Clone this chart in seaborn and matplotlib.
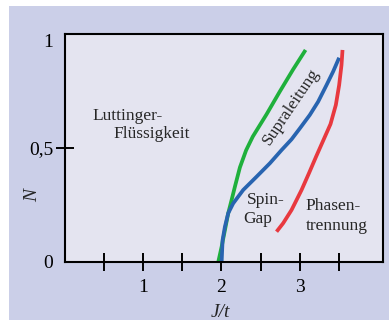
import matplotlib
matplotlib.use("Agg")
import matplotlib.pyplot as plt
import seaborn as sns
import pandas as pd
from matplotlib.patches import Rectangle

# Data
green_x = [1.96, 2.003, 2.045, 2.087, 2.130, 2.172, 2.236, 2.315, 2.40, 2.576, 2.745, 2.915, 3.073]
green_y = [0.0, 0.067, 0.140, 0.214, 0.272, 0.330, 0.415, 0.490, 0.550, 0.648, 0.748, 0.845, 0.930]
blue_x = [2.003, 2.015, 2.045, 2.087, 2.150, 2.278, 2.448, 2.618, 2.767, 2.894, 3.000, 3.127, 3.233, 3.340, 3.424, 3.501]
blue_y = [0.0, 0.096, 0.155, 0.214, 0.257, 0.316, 0.374, 0.433, 0.491, 0.538, 0.586, 0.645, 0.703, 0.776, 0.835, 0.896]
red_x = [2.703, 2.787, 2.894, 3.022, 3.117, 3.207, 3.297, 3.391, 3.459, 3.501, 3.531, 3.544]
red_y = [0.133, 0.170, 0.228, 0.316, 0.390, 0.462, 0.532, 0.605, 0.689, 0.776, 0.864, 0.930]

x_ticks = [0.5, 1, 1.5, 2, 2.5, 3, 3.5]
x_ticklabels = ["", "1", "", "2", "", "3", ""]
y_ticks = [0, 0.5, 1]
y_ticklabels = ["0", "0,5", "1"]

sns.set_style("white")
plt.rcParams["font.family"] = ["Liberation Serif", "DejaVu Serif"]

BG = "#cbcfe8"
PLOT_BG = "#e4e4f0"
GREEN = "#1fb03c"
BLUE = "#2864b0"
RED = "#e8393f"

fig = plt.figure(figsize=(3.89, 3.20), dpi=100)
fig.patch.set_facecolor("white")
fig.patches.append(Rectangle((9 / 389, 0), 1 - 9 / 389, (320 - 6) / 320,
                             transform=fig.transFigure, facecolor=BG,
                             edgecolor="none", zorder=-10))

ax = fig.add_axes([64.5 / 389, (320 - 262) / 320, (383 - 64.5) / 389, (262 - 34) / 320])
ax.set_facecolor(PLOT_BG)

df_g = pd.DataFrame({"x": green_x, "y": green_y})
df_b = pd.DataFrame({"x": blue_x, "y": blue_y})
df_r = pd.DataFrame({"x": red_x, "y": red_y})
for d, c in [(df_g, GREEN), (df_b, BLUE), (df_r, RED)]:
    sns.lineplot(data=d, x="x", y="y", ax=ax, color=c, linewidth=2.7,
                 sort=False, estimator=None, solid_capstyle="butt",
                 solid_joinstyle="round")

ax.set_xlim(0, 4.06)
ax.set_ylim(0, 1.0)
ax.set_xticks(x_ticks)
ax.set_xticklabels(x_ticklabels, fontsize=14)
ax.set_yticks(y_ticks)
ax.set_yticklabels(y_ticklabels, fontsize=14)
ax.tick_params(axis="both", direction="inout", length=13, width=1.4,
               colors="black", bottom=True, left=True)
ax.tick_params(axis="x", pad=6)
ax.tick_params(axis="y", pad=1.5)
for i in (0, 2):
    ax.yaxis.get_major_ticks()[i].tick1line.set_visible(False)
ax.get_yticklabels()[2].set_va("top")
for s in ax.spines.values():
    s.set_linewidth(1.5)
    s.set_color("black")

ax.set_xlabel("J/t", fontsize=14, style="italic")
ax.xaxis.set_label_coords(0.488, -0.185)
ax.set_ylabel("N", fontsize=14, style="italic")
ax.yaxis.set_label_coords(-0.072, 0.29)

fs = 12.5
ax.text(0.35, 0.64, "Luttinger-", fontsize=fs, ha="left", va="center")
ax.text(0.63, 0.56, "Flüssigkeit", fontsize=fs, ha="left", va="center")
ax.text(2.33, 0.27, "Spin-", fontsize=fs, ha="left", va="center")
ax.text(2.28, 0.19, "Gap", fontsize=fs, ha="left", va="center")
ax.text(3.07, 0.245, "Phasen-", fontsize=fs, ha="left", va="center")
ax.text(3.08, 0.16, "trennung", fontsize=fs, ha="left", va="center")
ax.text(2.89, 0.68, "Supraleitung", fontsize=fs, ha="center", va="center", rotation=56)

fig.savefig("out.png", dpi=100, facecolor=fig.get_facecolor())
